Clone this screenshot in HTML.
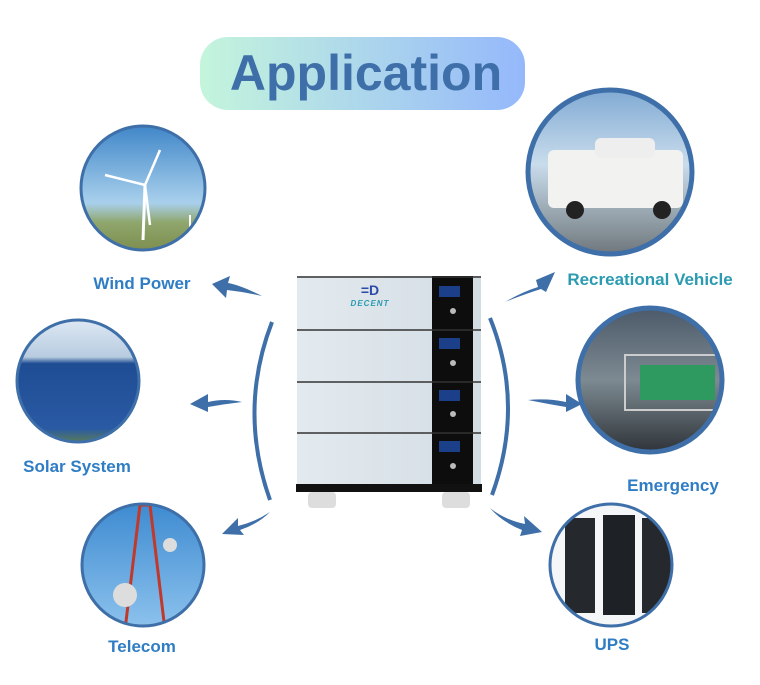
<!DOCTYPE html>
<html><head><style>
body{margin:0;background:#fff;width:760px;height:680px;overflow:hidden;font-family:"Liberation Sans",sans-serif}
</style></head><body>
<svg width="760" height="680" viewBox="0 0 760 680" xmlns="http://www.w3.org/2000/svg">
<defs>
<linearGradient id="tg" x1="0" x2="1"><stop offset="0" stop-color="#c4f5dc"/><stop offset="1" stop-color="#95b8fb"/></linearGradient>
<linearGradient id="sky" x1="0" y1="0" x2="0" y2="1"><stop offset="0" stop-color="#3f86c8"/><stop offset="0.6" stop-color="#a9d0ec"/><stop offset="0.75" stop-color="#8fa66c"/><stop offset="1" stop-color="#7a8a4a"/></linearGradient>
<linearGradient id="sol" x1="0" y1="0" x2="0" y2="1"><stop offset="0" stop-color="#dfe9f4"/><stop offset="0.3" stop-color="#b8cce0"/><stop offset="0.35" stop-color="#1f4d94"/><stop offset="0.85" stop-color="#2a5aa4"/><stop offset="1" stop-color="#6c8a3c"/></linearGradient>
<linearGradient id="tel" x1="0" y1="0" x2="0" y2="1"><stop offset="0" stop-color="#3d8ad0"/><stop offset="1" stop-color="#8fc4ee"/></linearGradient>
<linearGradient id="rv" x1="0" y1="0" x2="0" y2="1"><stop offset="0" stop-color="#7fa9d3"/><stop offset="0.45" stop-color="#c9dcec"/><stop offset="0.8" stop-color="#8e9aa2"/><stop offset="1" stop-color="#6b7278"/></linearGradient>
<linearGradient id="em" x1="0" y1="0" x2="0" y2="1"><stop offset="0" stop-color="#4a5868"/><stop offset="0.5" stop-color="#7d8a92"/><stop offset="1" stop-color="#2b3035"/></linearGradient>
<linearGradient id="bat" x1="0" x2="1"><stop offset="0" stop-color="#e3eaef"/><stop offset="1" stop-color="#d3dde4"/></linearGradient>
<clipPath id="c1"><circle cx="143" cy="188" r="62"/></clipPath>
<clipPath id="c2"><circle cx="78" cy="381" r="61"/></clipPath>
<clipPath id="c3"><circle cx="143" cy="565" r="61"/></clipPath>
<clipPath id="c4"><circle cx="610" cy="172" r="81"/></clipPath>
<clipPath id="c5"><circle cx="650" cy="380" r="71"/></clipPath>
<clipPath id="c6"><circle cx="611" cy="565" r="61"/></clipPath>
</defs>

<rect x="200" y="37" width="325" height="73" rx="28" fill="url(#tg)"/>
<text x="366" y="90" text-anchor="middle" font-size="50" font-weight="bold" fill="#3e6fa8">Application</text>

<!-- wind -->
<g clip-path="url(#c1)"><rect x="80" y="125" width="130" height="130" fill="url(#sky)"/>
<line x1="143" y1="240" x2="145" y2="185" stroke="#fff" stroke-width="3"/>
<line x1="145" y1="185" x2="160" y2="150" stroke="#fff" stroke-width="2.5"/>
<line x1="145" y1="185" x2="105" y2="175" stroke="#fff" stroke-width="2.5"/>
<line x1="145" y1="185" x2="150" y2="225" stroke="#fff" stroke-width="2.5"/>
<line x1="190" y1="240" x2="190" y2="215" stroke="#fff" stroke-width="2"/></g>
<circle cx="143" cy="188" r="62" fill="none" stroke="#3e6fa8" stroke-width="3"/>

<!-- solar -->
<g clip-path="url(#c2)"><rect x="15" y="318" width="130" height="130" fill="url(#sol)"/></g>
<circle cx="78" cy="381" r="61" fill="none" stroke="#3e6fa8" stroke-width="3"/>

<!-- telecom -->
<g clip-path="url(#c3)"><rect x="80" y="502" width="130" height="130" fill="url(#tel)"/>
<polygon points="140,505 150,505 165,630 125,630" fill="none" stroke="#c0392b" stroke-width="3"/>
<circle cx="125" cy="595" r="12" fill="#ddd"/><circle cx="170" cy="545" r="7" fill="#ddd"/></g>
<circle cx="143" cy="565" r="61" fill="none" stroke="#3e6fa8" stroke-width="3"/>

<!-- RV -->
<g clip-path="url(#c4)"><rect x="525" y="88" width="170" height="170" fill="url(#rv)"/>
<rect x="548" y="150" width="135" height="58" rx="6" fill="#f2f2f0"/>
<rect x="595" y="138" width="60" height="20" rx="6" fill="#eee"/>
<circle cx="575" cy="210" r="9" fill="#222"/><circle cx="662" cy="210" r="9" fill="#222"/></g>
<circle cx="610" cy="172" r="82" fill="none" stroke="#3e6fa8" stroke-width="5"/>

<!-- emergency -->
<g clip-path="url(#c5)"><rect x="575" y="305" width="150" height="150" fill="url(#em)"/>
<rect x="640" y="365" width="75" height="35" fill="#2e9a60"/>
<rect x="625" y="355" width="100" height="55" fill="none" stroke="#ccc" stroke-width="2"/></g>
<circle cx="650" cy="380" r="72" fill="none" stroke="#3e6fa8" stroke-width="5"/>

<!-- UPS -->
<g clip-path="url(#c6)"><rect x="548" y="502" width="130" height="130" fill="#f4f6f8"/>
<rect x="565" y="518" width="30" height="95" fill="#25282c"/>
<rect x="603" y="515" width="32" height="100" fill="#1e2125"/>
<rect x="642" y="518" width="30" height="95" fill="#25282c"/></g>
<circle cx="611" cy="565" r="61" fill="none" stroke="#3e6fa8" stroke-width="3"/>

<!-- labels -->
<g font-size="17" font-weight="bold" fill="#2f7dc4" text-anchor="middle">
<text x="142" y="289">Wind Power</text>
<text x="77" y="472">Solar System</text>
<text x="142" y="652">Telecom</text>
<text x="650" y="285" fill="#2a9bb0">Recreational Vehicle</text>
<text x="673" y="491">Emergency</text>
<text x="612" y="650">UPS</text>
</g>

<!-- arcs -->
<path d="M272 322 Q238 410 270 500" fill="none" stroke="#3e6fa8" stroke-width="4"/>
<path d="M490 318 Q525 405 492 495" fill="none" stroke="#3e6fa8" stroke-width="4"/>
<g fill="#3e6fa8">
<path d="M262 296 Q240 285 228 283 L230 276 L212 284 L226 298 L227 290 Q245 292 262 296Z"/>
<path d="M242 402 Q225 398 208 402 L208 394 L190 404 L208 412 L208 407 Q225 404 242 402Z"/>
<path d="M270 512 Q255 522 238 526 L238 518 L222 534 L244 535 L240 530 Q258 524 270 512Z"/>
<path d="M505 302 Q522 292 538 287 L536 280 L555 272 L546 292 L541 289 Q525 294 505 302Z"/>
<path d="M528 400 Q548 398 566 402 L566 394 L582 404 L566 412 L566 407 Q548 404 528 400Z"/>
<path d="M490 508 Q505 520 525 524 L524 516 L542 532 L520 536 L522 530 Q502 522 490 508Z"/>
</g>

<!-- battery -->
<g>
<rect x="297" y="276" width="184" height="210" fill="url(#bat)"/>
<rect x="432" y="276" width="41" height="210" fill="#0d0d0d"/>
<g stroke="#333" stroke-width="1.5"><line x1="297" y1="277" x2="481" y2="277"/><line x1="297" y1="330" x2="481" y2="330"/><line x1="297" y1="382" x2="481" y2="382"/><line x1="297" y1="433" x2="481" y2="433"/></g>
<rect x="296" y="484" width="186" height="8" fill="#111"/>
<g fill="#1c3f8a"><rect x="439" y="286" width="21" height="11"/><rect x="439" y="338" width="21" height="11"/><rect x="439" y="390" width="21" height="11"/><rect x="439" y="441" width="21" height="11"/></g>
<g fill="#bbb"><circle cx="453" cy="311" r="3"/><circle cx="453" cy="363" r="3"/><circle cx="453" cy="414" r="3"/><circle cx="453" cy="466" r="3"/></g>
<rect x="308" y="492" width="28" height="16" rx="4" fill="#ddd"/><rect x="442" y="492" width="28" height="16" rx="4" fill="#ddd"/>
<text x="370" y="295" text-anchor="middle" font-size="14" font-weight="bold" fill="#2c4aa8">=D</text>
<text x="370" y="306" text-anchor="middle" font-size="8" font-style="italic" font-weight="bold" fill="#2a9bb0" letter-spacing="1">DECENT</text>
</g>
</svg>
</body></html>
